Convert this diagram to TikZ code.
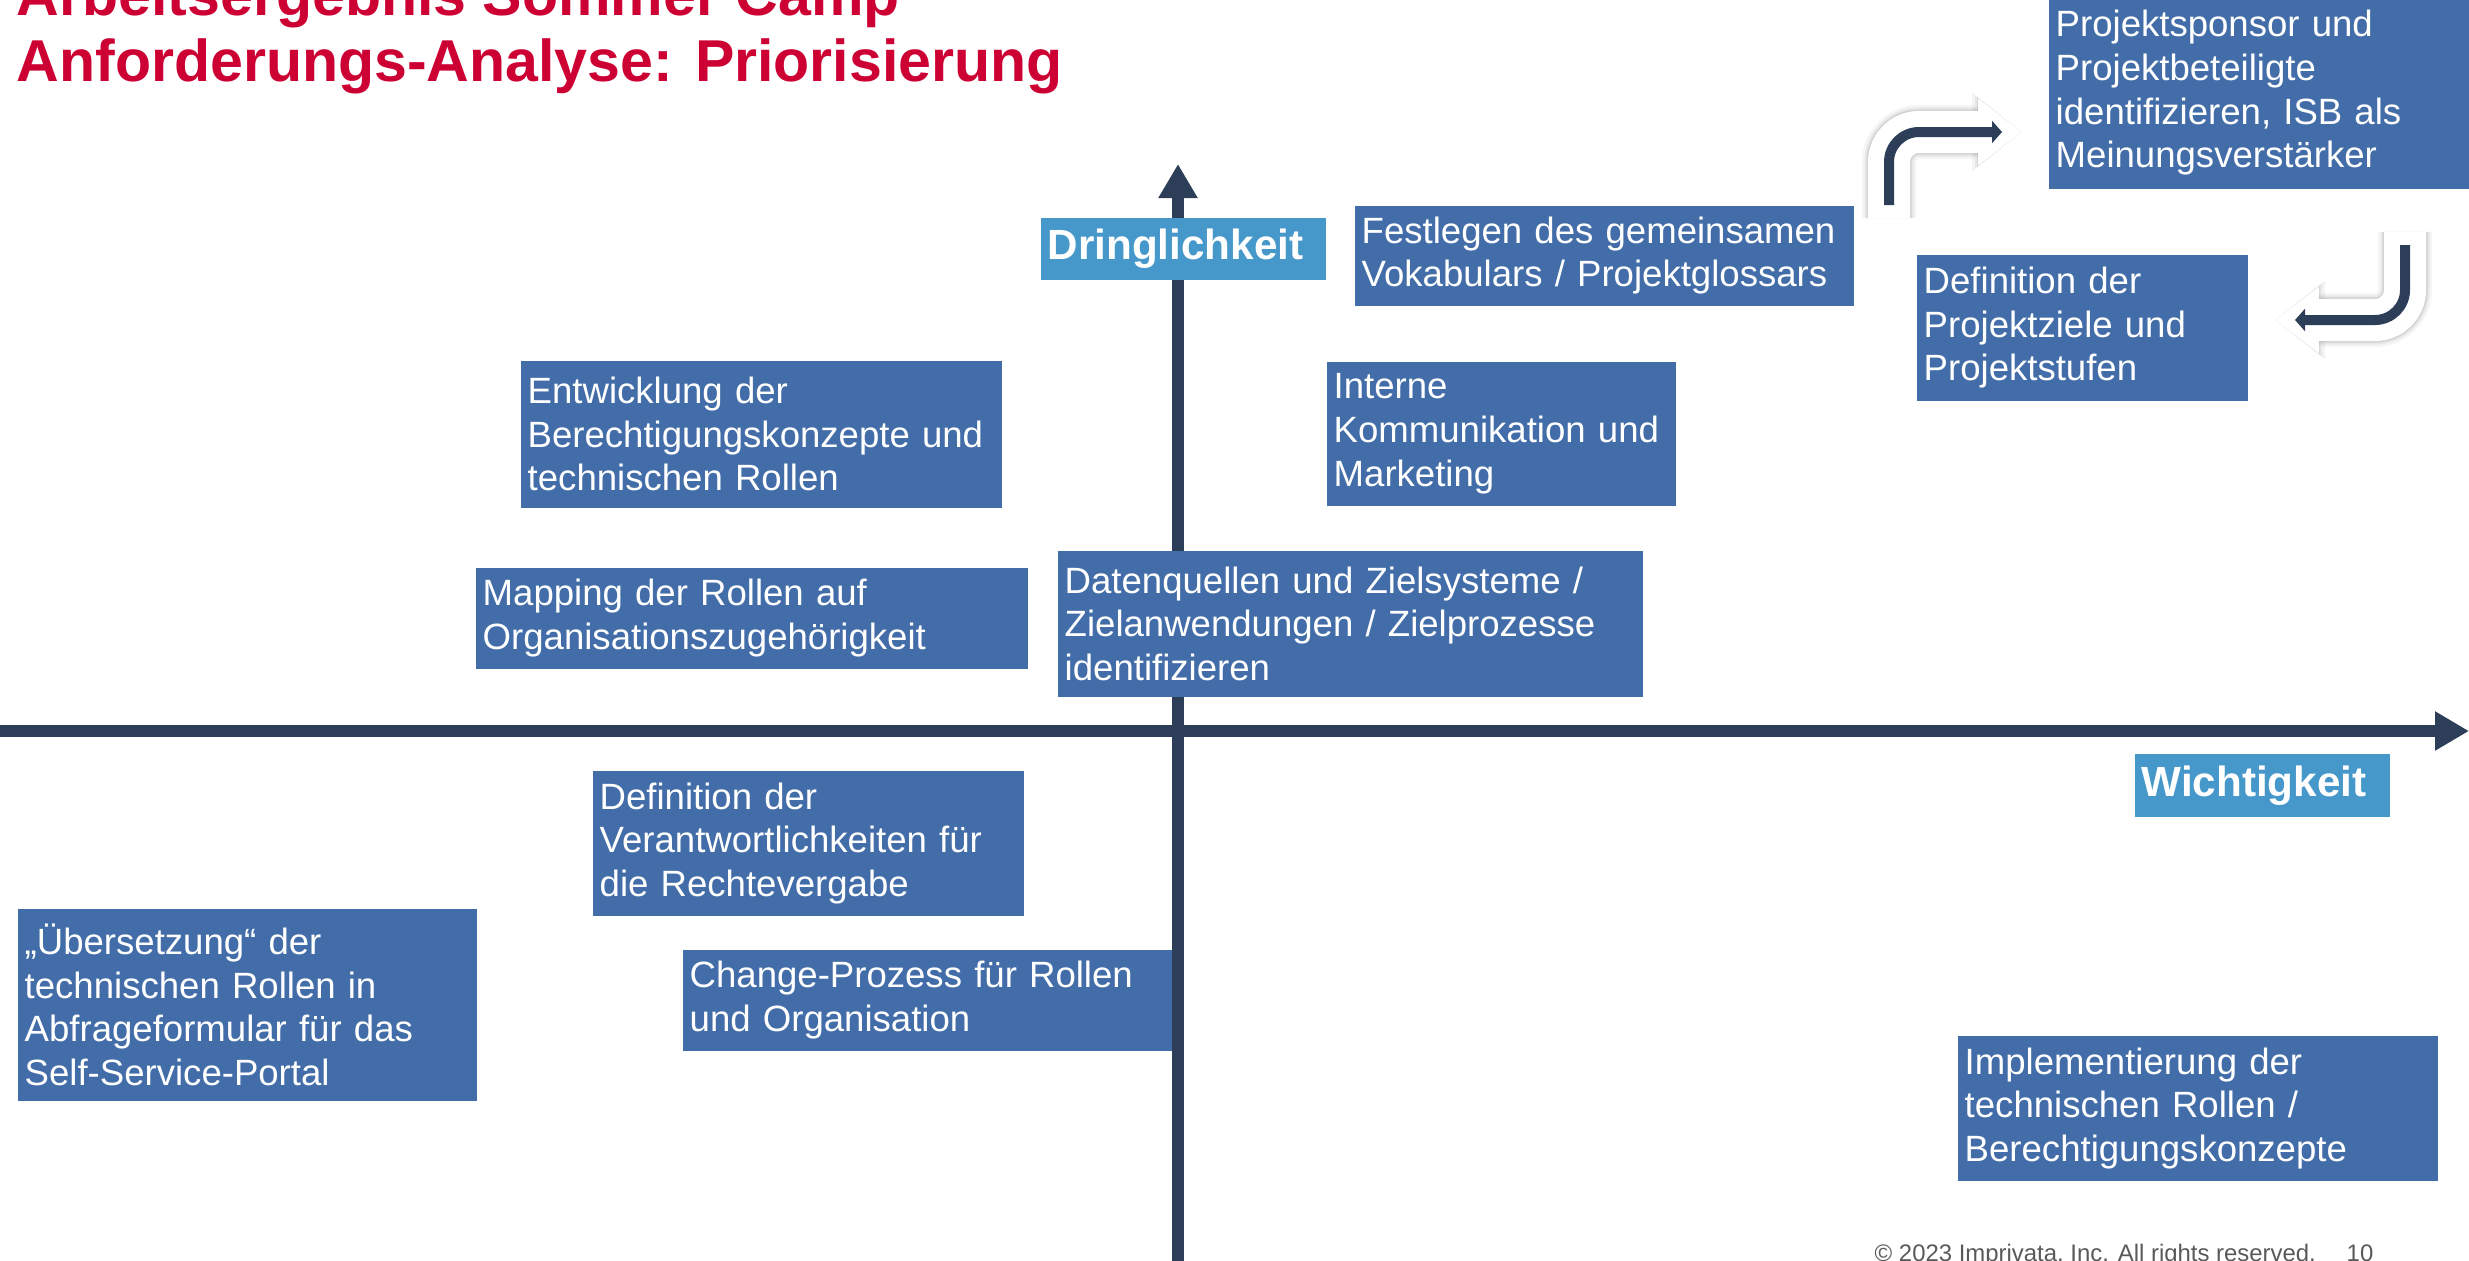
\documentclass[tikz,border=0pt]{standalone}
\usepackage{fontspec}
\setmainfont{Liberation Sans}
\usetikzlibrary{arrows.meta,positioning}
\definecolor{boxblue}{RGB}{67,109,168}
\definecolor{labelblue}{RGB}{71,152,202}
\definecolor{axisblue}{RGB}{44,62,88}
\definecolor{titlered}{RGB}{204,0,51}
\definecolor{footgray}{RGB}{89,89,89}
\tikzstyle{task}=[rectangle,fill=boxblue,text=white,anchor=north west,align=left,
inner xsep=0.07cm,inner ysep=0pt,font=\fontsize{10.4pt}{12.4pt}\selectfont]
\tikzstyle{axislabel}=[rectangle,fill=labelblue,text=white,anchor=north west,align=left,
inner xsep=0.07cm,inner ysep=0pt,font=\bfseries\fontsize{12pt}{14pt}\selectfont]
\tikzstyle{axis}=[draw=axisblue,line width=0.12cm,-{Triangle[length=0.34cm,width=0.37cm]}]
\tikzstyle{bendline}=[draw=axisblue,line width=0.1cm,rounded corners=0.3cm,
-{Triangle[length=0.1cm,width=0.22cm]}]
\tikzset{bendhalo/.style n args={5}{draw=#1,opacity=#5,line width=#2,rounded corners=0.3cm,
shorten <=-0.13cm,shorten >=-0.2cm,-{Triangle[length=#3,width=#4]}}}
\tikzstyle{headline}=[anchor=base west,align=left,inner sep=0pt,text=titlered,
font=\bfseries\fontsize{16.8pt}{18.5pt}\selectfont]
\tikzstyle{footer}=[anchor=base west,inner sep=0pt,text=footgray,
font=\fontsize{6.8pt}{8pt}\selectfont]

\begin{document}
\begin{tikzpicture}[x=0.01cm,y=-0.01cm]
  \useasboundingbox (0,0) rectangle (2469,1260);
  \node[headline] (title) at (16,81) {Arbeitsergebnis Sommer Camp\\Anforderungs-Analyse: Priorisierung};

  % axes
  \coordinate (xstart) at (0,731);
  \coordinate (xend) at (2469,731);
  \coordinate (ystart) at (1178,1270);
  \coordinate (yend) at (1178,164);
  \draw[axis] (xstart) -- (xend);
  \draw[axis] (ystart) -- (yend);

  % bent arrows top right
  \coordinate (riseS) at (1889,205);
  \coordinate (riseE) at (2002,132);
  \coordinate (dropS) at (2405,245);
  \coordinate (dropE) at (2295,320);
  \foreach \s/\e in {riseS/riseE,dropS/dropE}{
    \draw[bendhalo={black}{0.54cm}{0.50cm}{0.76cm}{0.04},xshift=0.04cm,yshift=-0.09cm] (\s) |- (\e);
    \draw[bendhalo={black}{0.49cm}{0.47cm}{0.70cm}{0.06},xshift=0.03cm,yshift=-0.07cm] (\s) |- (\e);
    \draw[bendhalo={black}{0.45cm}{0.45cm}{0.66cm}{0.09},xshift=0.02cm,yshift=-0.05cm] (\s) |- (\e);
    \draw[bendhalo={white}{0.42cm}{0.44cm}{0.64cm}{1}] (\s) |- (\e);
    \draw[bendline] (\s) |- (\e);
  }

  \node[task,minimum width=4.81cm,minimum height=1.47cm,text width=4.67cm] (entwicklung) at (520,360)
    {Entwicklung der\\Berechtigungskonzepte und\\technischen Rollen};
  \node[task,minimum width=3.49cm,minimum height=1.44cm,text width=3.35cm] (intern) at (1326,361)
    {Interne\\Kommunikation und\\Marketing};
  \node[task,minimum width=4.99cm,minimum height=1.00cm,text width=4.85cm] (vokabular) at (1354,205)
    {Festlegen des gemeinsamen\\Vokabulars / Projektglossars};
  \node[task,minimum width=4.40cm,minimum height=1.92cm,text width=4.26cm] (sponsor) at (2048,-4)
    {Projektsponsor und\\Projektbeteiligte\\identifizieren, ISB als\\Meinungsverstärker};
  \node[task,minimum width=3.31cm,minimum height=1.46cm,text width=3.17cm] (ziele) at (1916,254)
    {Definition der\\Projektziele und\\Projektstufen};
  \node[task,minimum width=5.52cm,minimum height=1.01cm,text width=5.38cm] (mapping) at (475,567)
    {Mapping der Rollen auf\\Organisationszugehörigkeit};
  \node[task,minimum width=5.85cm,minimum height=1.46cm,text width=5.71cm] (daten) at (1057,550)
    {Datenquellen und Zielsysteme /\\Zielanwendungen / Zielprozesse\\identifizieren};
  \node[task,minimum width=4.31cm,minimum height=1.45cm,text width=4.17cm] (verantwortung) at (592,770)
    {Definition der\\Verantwortlichkeiten für\\die Rechtevergabe};
  \node[task,minimum width=4.59cm,minimum height=1.92cm,text width=4.45cm] (uebersetzung) at (17,908)
    {„Übersetzung“ der\\technischen Rollen in\\Abfrageformular für das\\Self-Service-Portal};
  \node[task,minimum width=4.89cm,minimum height=1.01cm,text width=4.75cm] (change) at (682,949)
    {Change-Prozess für Rollen\\und Organisation};
  \node[task,minimum width=4.80cm,minimum height=1.45cm,text width=4.66cm] (implement) at (1957,1035)
    {Implementierung der\\technischen Rollen /\\Berechtigungskonzepte};

  \node[axislabel,minimum width=2.85cm,minimum height=0.62cm,text width=2.71cm] (dringlich) at (1040,217) {Dringlichkeit};
  \node[axislabel,minimum width=2.55cm,minimum height=0.63cm,text width=2.41cm] (wichtig) at (2134,753) {Wichtigkeit};

  \node[footer] (copyright) at (1874,1261) {© 2023 Imprivata, Inc. All rights reserved.};
  \node[footer] (pagenum) at (2346,1261) {10};
\end{tikzpicture}
\end{document}
